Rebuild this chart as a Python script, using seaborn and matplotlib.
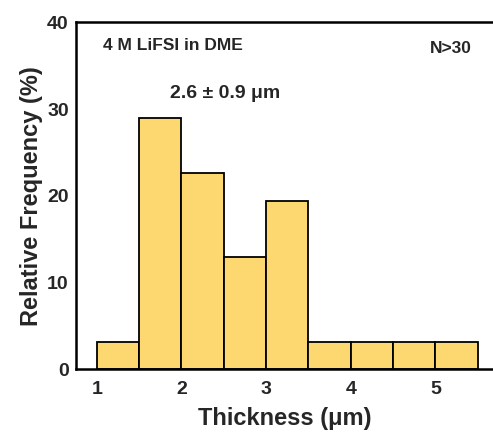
import seaborn as sns
from matplotlib import pyplot as plt

# thickness bins (um) and relative frequency (%)
bin_edges = [1.0, 1.5, 2.0, 2.5, 3.0, 3.5, 4.0, 4.5, 5.0, 5.5]
bin_centers = [1.25, 1.75, 2.25, 2.75, 3.25, 3.75, 4.25, 4.75, 5.25]
rel_freq = [3.2, 29.0, 22.6, 12.9, 19.4, 3.2, 3.2, 3.2, 3.2]
x_ticks = [1, 2, 3, 4, 5]
y_ticks = [0, 10, 20, 30, 40]

sns.set_style("white")
plt.rcParams['font.family'] = ['Liberation Sans', 'DejaVu Sans']
plt.rcParams['font.weight'] = 'bold'

fig = plt.figure(figsize=(4.93, 4.44), dpi=100)
ax = fig.add_axes([0.1535, 0.168, 0.8465, 0.782])

sns.histplot(x=bin_centers, weights=rel_freq, bins=bin_edges,
             color="#FDD870", edgecolor="black", linewidth=1.3,
             alpha=1, ax=ax)

ax.set_xlim(0.75, 5.68)
ax.set_ylim(0, 40)
ax.set_xticks(x_ticks)
ax.set_yticks(y_ticks)
ax.tick_params(axis="y", direction="in", length=5, width=1.5,
               labelsize=14, pad=5)
ax.tick_params(axis="x", direction="in", length=0, labelsize=14, pad=8)
for lab in ax.get_xticklabels() + ax.get_yticklabels():
    lab.set_fontweight("bold")

ax.set_xlabel("Thickness (μm)", fontsize=17, fontweight="bold", labelpad=7)
ax.set_ylabel("Relative Frequency (%)", fontsize=17, fontweight="bold", labelpad=3)

for side in ["left", "top", "bottom"]:
    ax.spines[side].set_linewidth(1.8)
    ax.spines[side].set_color("black")
ax.spines["right"].set_visible(False)

ax.text(1.07, 37.3, "4 M LiFSI in DME", fontsize=12.5, fontweight="bold",
        ha="left", va="center")
ax.text(5.43, 37.0, "N>30", fontsize=12.5, fontweight="bold",
        ha="right", va="center")
ax.text(2.51, 31.8, "2.6 ± 0.9 μm", fontsize=14, fontweight="bold",
        ha="center", va="center")

fig.savefig("out.png", dpi=100)
